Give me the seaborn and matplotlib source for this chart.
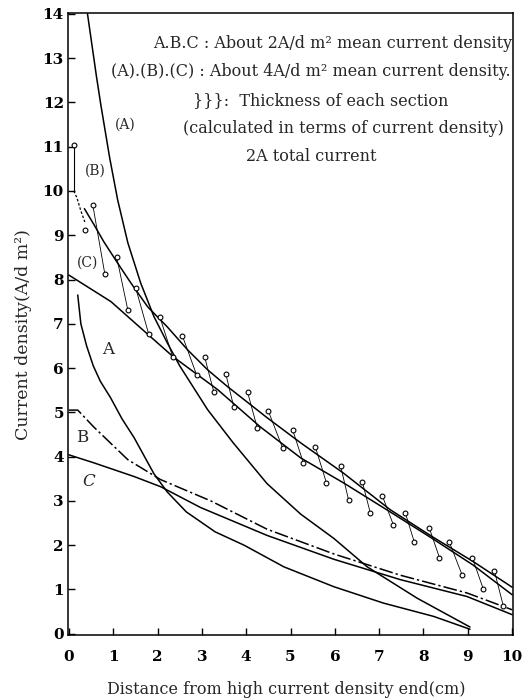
import numpy as np
import pandas as pd
import matplotlib
matplotlib.use("Agg")
import matplotlib.pyplot as plt
import seaborn as sns

# ---------------- data ----------------
# 2 A/dm2 mean current density curves
A_x = [0.2, 0.27, 0.4, 0.55, 0.71, 0.94, 1.2, 1.47, 1.92, 2.22, 2.65, 3.3, 3.95, 4.85, 5.98, 7.1, 8.23, 9.05]
A_y = [7.65, 7.0, 6.5, 6.05, 5.7, 5.33, 4.85, 4.43, 3.61, 3.2, 2.75, 2.3, 2.0, 1.51, 1.06, 0.69, 0.39, 0.1]
B_x = [0.0, 0.2, 0.56, 1.33, 2.07, 3.2, 4.47, 5.98, 7.48, 8.98, 10.0]
B_y = [5.05, 5.05, 4.67, 3.93, 3.48, 3.0, 2.36, 1.8, 1.32, 0.92, 0.54]
C_x = [0.0, 0.56, 1.47, 2.07, 2.97, 4.47, 5.98, 7.48, 8.98, 10.0]
C_y = [4.04, 3.86, 3.55, 3.32, 2.85, 2.22, 1.68, 1.22, 0.84, 0.43]

# 4 A/dm2 mean current density curves
pA_x = [0.42, 0.52, 0.62, 0.72, 0.82, 0.92, 1.1, 1.33, 1.62, 1.92, 2.22, 2.5, 3.13, 3.7, 4.47, 5.23, 5.98, 6.73, 7.86, 9.05]
pA_y = [14.0, 13.3, 12.6, 11.95, 11.35, 10.75, 9.8, 8.83, 7.92, 7.16, 6.57, 6.05, 5.06, 4.32, 3.39, 2.7, 2.15, 1.51, 0.8, 0.15]
pB_x = [0.35, 0.56, 0.79, 1.1, 1.4, 1.78, 2.22, 2.68, 3.13, 3.58, 4.47, 5.23, 6.19, 7.25, 8.2, 9.12, 10.0]
pB_y = [9.6, 9.25, 8.85, 8.37, 7.92, 7.38, 6.93, 6.41, 5.96, 5.58, 4.88, 4.31, 3.63, 2.8, 2.19, 1.63, 1.05]
pB_lead_x = [0.11, 0.18, 0.27, 0.36]
pB_lead_y = [10.0, 9.85, 9.55, 9.3]
pB_top_x = [0.11, 0.11]
pB_top_y = [11.0, 10.0]
pC_x = [0.0, 0.95, 1.85, 2.36, 3.36, 4.32, 5.23, 6.19, 7.25, 8.2, 9.12, 10.0]
pC_y = [8.1, 7.5, 6.7, 6.25, 5.51, 4.67, 3.97, 3.41, 2.75, 2.15, 1.55, 0.88]

# section thickness markers (upper / lower ends)
up_x = [0.11, 0.54, 1.08, 1.51, 2.05, 2.56, 3.06, 3.54, 4.03, 4.5, 5.05, 5.56, 6.13, 6.62, 7.07, 7.59, 8.13, 8.58, 9.1, 9.6]
up_y = [11.04, 9.68, 8.5, 7.8, 7.16, 6.73, 6.26, 5.87, 5.46, 5.03, 4.6, 4.22, 3.79, 3.43, 3.12, 2.73, 2.39, 2.08, 1.72, 1.42]
lo_x = [0.36, 0.81, 1.33, 1.8, 2.34, 2.88, 3.27, 3.72, 4.25, 4.82, 5.29, 5.81, 6.31, 6.8, 7.32, 7.79, 8.36, 8.87, 9.35, 9.8]
lo_y = [9.12, 8.13, 7.31, 6.77, 6.26, 5.85, 5.46, 5.12, 4.65, 4.2, 3.86, 3.41, 3.02, 2.73, 2.46, 2.08, 1.72, 1.33, 1.01, 0.63]

x_ticks = [0, 1, 2, 3, 4, 5, 6, 7, 8, 9, 10]
y_ticks = list(range(0, 15))

# ---------------- plotting ----------------
sns.set_theme(style="ticks")
plt.rcParams['font.family'] = ['DejaVu Serif', 'Liberation Serif']

W, H = 529, 700
fig = plt.figure(figsize=(W / 100, H / 100), dpi=100)
L, R, T, B = 68, 513, 13, 635
ax = fig.add_axes([L / W, 1 - B / H, (R - L) / W, (B - T) / H])

lw = 1.1
k = 'black'

def line(xs, ys, **kw):
    sns.lineplot(x=xs, y=ys, ax=ax, color=k, sort=False, estimator=None, legend=False, **kw)

line(A_x, A_y, linewidth=lw)
line(B_x, B_y, linewidth=lw, dashes=False)
ax.lines[-1].set_dashes([9, 2, 1.5, 2])
line(C_x, C_y, linewidth=lw)
line(pA_x, pA_y, linewidth=lw)
line(pB_x, pB_y, linewidth=lw)
line(pB_lead_x, pB_lead_y, linewidth=0.9)
ax.lines[-1].set_dashes([2, 1.5])
line(pB_top_x, pB_top_y, linewidth=0.8)
line(pC_x, pC_y, linewidth=lw)

# sticks for section thickness
stick = pd.DataFrame({
    'x': [v for pair in zip(up_x[1:], lo_x[1:]) for v in pair],
    'y': [v for pair in zip(up_y[1:], lo_y[1:]) for v in pair],
    'pair': [i for i in range(1, len(up_x)) for _ in range(2)],
})
sns.lineplot(data=stick, x='x', y='y', units='pair', estimator=None, sort=False,
             color=k, linewidth=0.6, ax=ax, legend=False)

pts = pd.DataFrame({'x': up_x + lo_x, 'y': up_y + lo_y})
sns.scatterplot(data=pts, x='x', y='y', ax=ax, s=12, facecolor='white',
                edgecolor=k, linewidth=0.8, zorder=5, legend=False)

ax.set_xlim(-0.02, 10.02)
ax.set_ylim(-0.03, 14.02)
ax.set_xticks(x_ticks)
ax.set_yticks(y_ticks)
ax.set_xticklabels([str(t) for t in x_ticks], fontsize=11, fontweight='bold')
ax.set_yticklabels([str(t) for t in y_ticks], fontsize=11, fontweight='bold')
ax.tick_params(direction='in', length=5, width=1, colors=k)
ax.tick_params(axis='y', pad=3)
ax.tick_params(axis='x', pad=11)
for s in ax.spines.values():
    s.set_visible(True)
    s.set_color(k)
    s.set_linewidth(1.1)

ax.set_xlabel('Distance from high current density end(cm)', fontsize=11.5)
ax.xaxis.set_label_coords((286 - L) / (R - L), -(681 - B) / (B - T))
ax.set_ylabel('Current density(A/d m²)', fontsize=12.5)
ax.yaxis.set_label_coords(-(L - 32) / (R - L), (B - 335) / (B - T))

fs = 11.5
ax.text(10.0, 13.34, 'A.B.C : About 2A/d m² mean current density', ha='right', va='center', fontsize=fs)
ax.text(0.95, 12.69, '(A).(B).(C) : About 4A/d m² mean current density.', ha='left', va='center', fontsize=fs)
ax.text(2.8, 12.05, '}}}:  Thickness of each section', ha='left', va='center', fontsize=fs)
ax.text(2.57, 11.42, '(calculated in terms of current density)', ha='left', va='center', fontsize=fs)
ax.text(4.0, 10.77, '2A total current', ha='left', va='center', fontsize=fs)

ax.text(1.28, 11.5, '(A)', ha='center', va='center', fontsize=10)
ax.text(0.6, 10.45, '(B)', ha='center', va='center', fontsize=10)
ax.text(0.42, 8.37, '(C)', ha='center', va='center', fontsize=10)
ax.text(0.88, 6.41, 'A', ha='center', va='center', fontsize=12)
ax.text(0.3, 4.43, 'B', ha='center', va='center', fontsize=12)
ax.text(0.45, 3.43, 'C', ha='center', va='center', fontsize=12, style='italic')

fig.savefig('out.png', dpi=100)
